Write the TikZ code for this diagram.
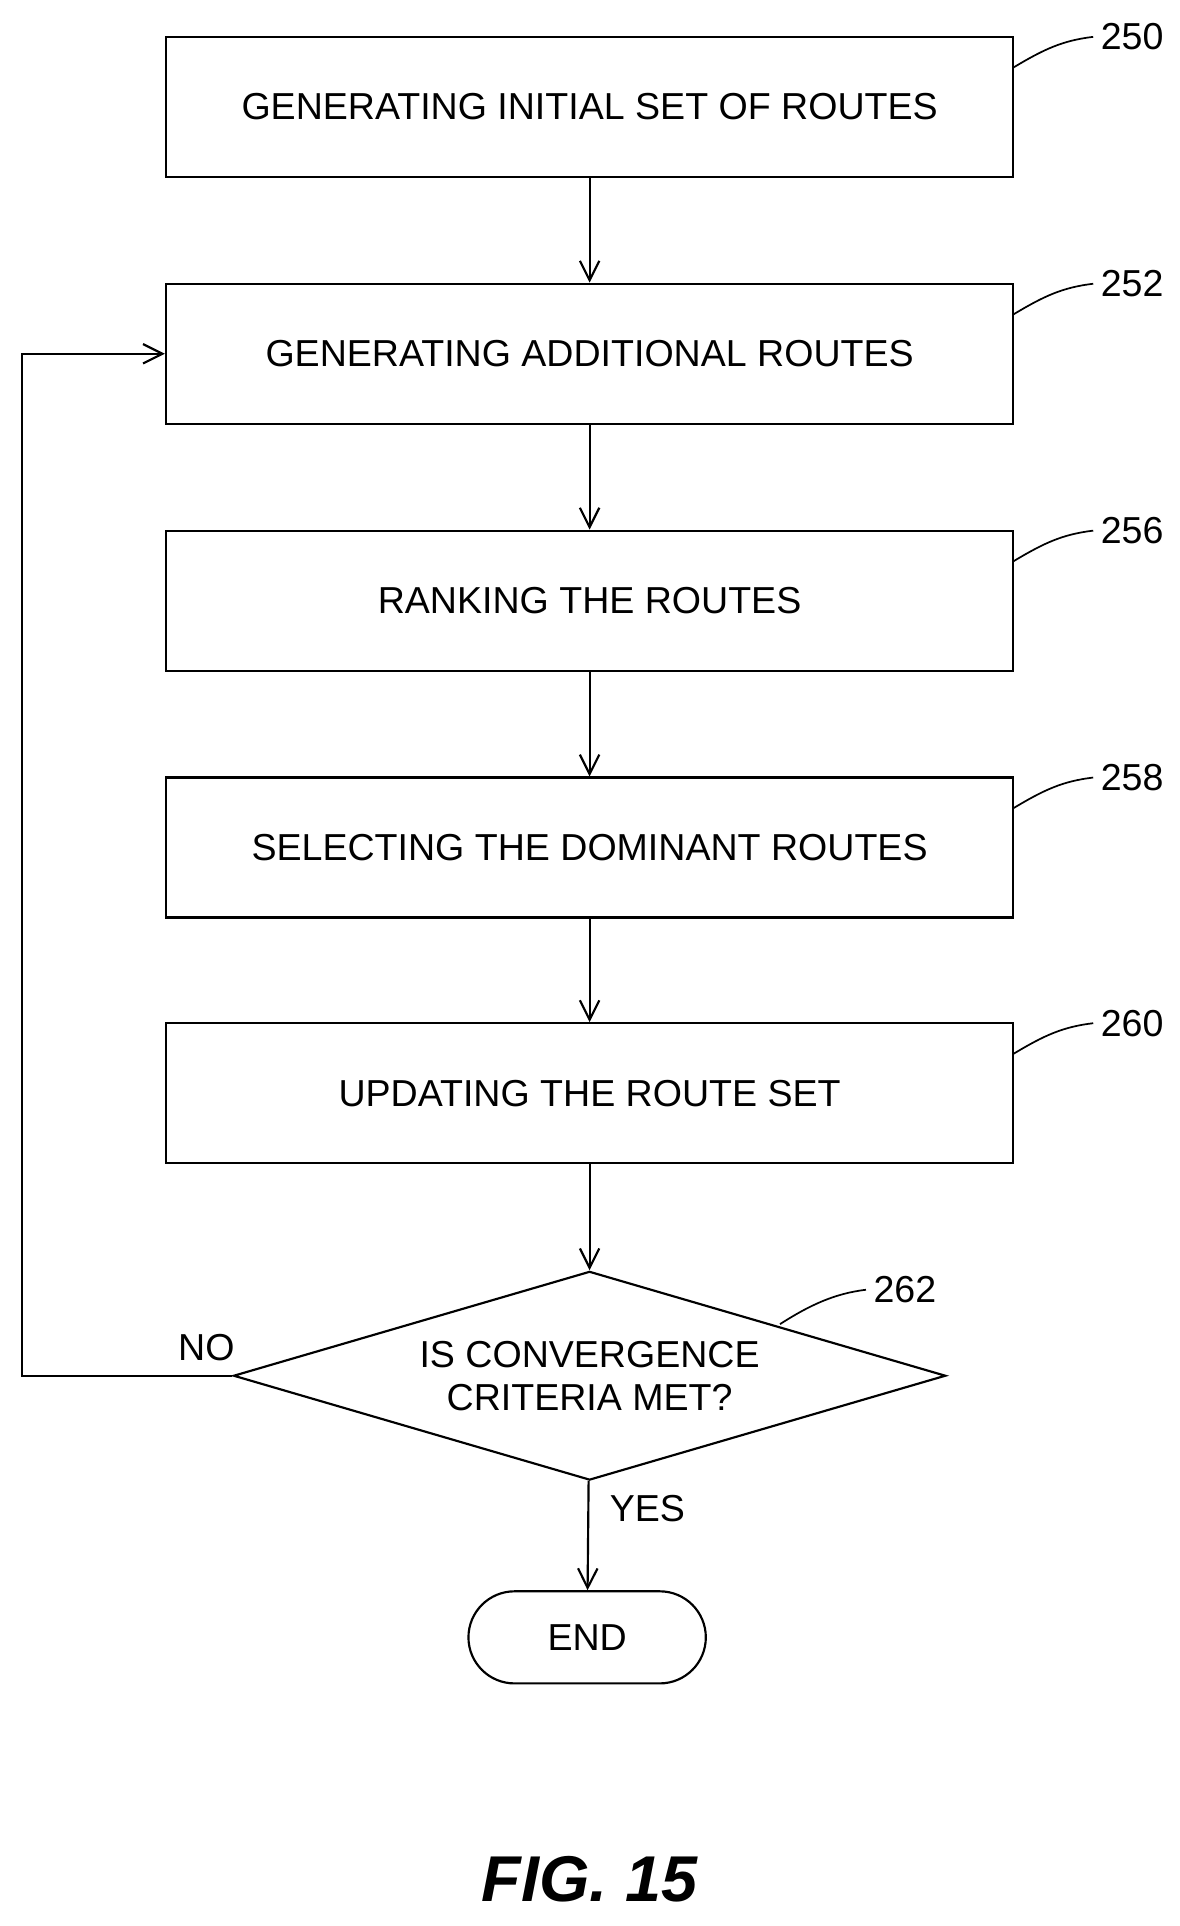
\documentclass[tikz,border=0pt]{standalone}
\usepackage{fontspec}
\setmainfont{Liberation Sans}
\usetikzlibrary{arrows.meta,shapes.geometric,shapes.misc}

\begin{document}
\begin{tikzpicture}[x=0.02cm,y=-0.02cm,
	box/.style={draw, line width=1pt, minimum width=13.8cm, minimum height=2.28cm, font=\fontsize{17.4}{20}\selectfont},
	arr/.style={-{Straight Barb[length=9pt,width=9pt]}, line width=1pt},
	lbl/.style={font=\fontsize{17.4}{20}\selectfont}]

	\useasboundingbox (0,0) rectangle (960,1568);

	\node[box] (B250) at (480,87) {GENERATING INITIAL SET OF ROUTES};
	\node[box] (B252) at (480,288) {GENERATING ADDITIONAL ROUTES};
	\node[box] (B256) at (480,489) {RANKING THE ROUTES};
	\node[box] (B258) at (480,690) {SELECTING THE DOMINANT ROUTES};
	\node[box] (B260) at (480,890) {UPDATING THE ROUTE SET};

	\node[draw, line width=1pt, diamond, aspect=3.4, minimum width=11.6cm, minimum height=3.4cm, inner sep=0pt, align=center, lbl] (D262) at (480,1120) {IS CONVERGENCE\\CRITERIA MET?};
	\node[draw, line width=1pt, rounded rectangle, minimum width=4.1cm, minimum height=1.5cm, lbl] (End) at (478,1333) {END};

	\foreach \a/\b in {B250/B252, B252/B256, B256/B258, B258/B260, B260/D262, D262/End} {
		\draw[arr] (\a) -- (\b);
	}

	\coordinate (Lb) at (18,1120);
	\coordinate (Lt) at (18,288);
	\draw[arr] (D262.west) -- (Lb) -- (Lt) -- (B252.west);
	\node[lbl] (No) at (168,1097) {NO};
	\node[lbl] (Yes) at (527,1228) {YES};

	% reference numerals
	\foreach \n/\y in {250/30, 252/231, 256/432, 258/633, 260/833} {
		\node[lbl, right] (N\n) at (890,\y) {\n};
		\draw[line width=0.8pt] (825,\y+25) .. controls (850,\y+10) and (865,\y+3) .. (N\n.west);
	}
	\node[lbl, right] (N262) at (705,1050) {262};
	\draw[line width=0.8pt] (635,1078) .. controls (660,1062) and (680,1053) .. (N262.west);

	\node[font=\fontsize{30}{34}\selectfont\itshape\bfseries] (Fig) at (480,1530) {FIG. 15};
\end{tikzpicture}
\end{document}
